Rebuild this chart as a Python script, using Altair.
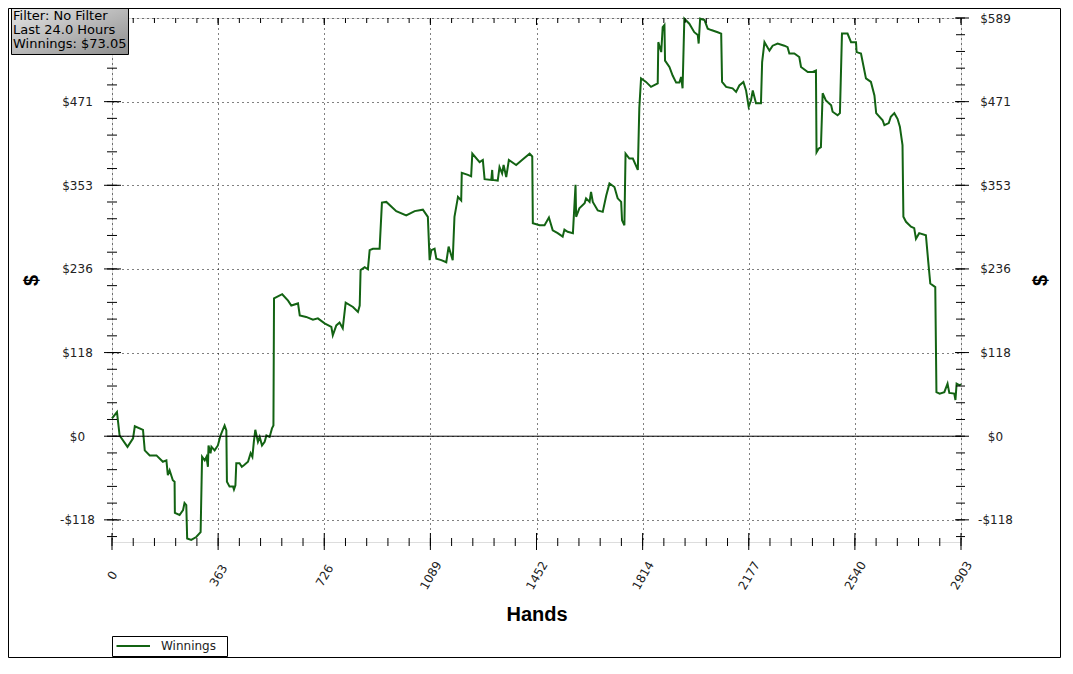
import altair as alt
import pandas as pd

# ---------------- data ----------------
hands = [0, 17, 26, 53, 72, 78, 106, 112, 129, 152, 174, 186, 191, 197, 208, 214, 215, 231, 243, 248,
         254, 257, 271, 288, 303, 308, 317, 323, 328, 330, 337, 340, 351, 362, 371, 376, 385, 391, 393, 402,
         414, 417, 422, 425, 436, 444, 451, 465, 474, 480, 485, 490, 499, 505, 513, 522, 528, 539, 547, 552,
         554, 582, 602, 613, 636, 642, 664, 687, 704, 727, 750, 755, 767, 778, 789, 799, 824, 841, 847, 850,
         864, 875, 881, 892, 915, 923, 938, 972, 1006, 1035, 1063, 1080, 1086, 1092, 1103, 1109, 1126, 1143, 1151, 1165,
         1171, 1177, 1183, 1194, 1196, 1217, 1228, 1232, 1257, 1268, 1274, 1297, 1300, 1302, 1319, 1325, 1334, 1339, 1348, 1357,
         1382, 1405, 1428, 1437, 1439, 1462, 1479, 1494, 1507, 1524, 1541, 1547, 1558, 1576, 1585, 1587, 1598, 1616, 1621, 1633,
         1638, 1644, 1661, 1678, 1690, 1701, 1718, 1729, 1741, 1744, 1752, 1756, 1769, 1781, 1798, 1803, 1809, 1826, 1843, 1866,
         1868, 1878, 1883, 1889, 1891, 1906, 1917, 1929, 1940, 1946, 1951, 1957, 1974, 1991, 2003, 2006, 2011, 2026, 2037, 2049,
         2071, 2083, 2086, 2100, 2122, 2134, 2145, 2159, 2168, 2177, 2185, 2191, 2202, 2219, 2223, 2231, 2248, 2259, 2276, 2299,
         2310, 2316, 2333, 2350, 2356, 2379, 2396, 2407, 2409, 2416, 2424, 2430, 2441, 2459, 2464, 2481, 2489, 2496, 2515, 2527,
         2544, 2546, 2561, 2578, 2595, 2607, 2613, 2635, 2641, 2656, 2663, 2675, 2686, 2694, 2703, 2706, 2715, 2732, 2743, 2749,
         2760, 2783, 2791, 2798, 2815, 2819, 2830, 2846, 2857, 2863, 2880, 2884, 2888, 2897, 2903]
winnings = [25, 34, 1, -15, -3, 14, 9, -20, -27, -27, -36, -34, -55, -48, -62, -64, -108, -111, -104, -94,
            -97, -144, -146, -142, -135, -29, -34, -29, -43, -13, -24, -15, -20, -13, 1, 6, 15, 8, -64, -71,
            -71, -75, -69, -38, -38, -43, -41, -36, -24, -29, -8, 9, -8, -1, -13, -8, 1, -1, 11, 15,
            194, 200, 191, 184, 187, 170, 168, 164, 166, 159, 154, 142, 156, 160, 152, 188, 182, 175, 184, 234,
            238, 235, 262, 264, 264, 329, 330, 317, 311, 317, 319, 309, 248, 262, 264, 250, 248, 245, 267, 248,
            309, 323, 337, 332, 371, 368, 366, 398, 386, 389, 362, 361, 375, 361, 360, 379, 370, 382, 365, 389,
            382, 390, 398, 394, 300, 297, 297, 308, 290, 286, 281, 291, 288, 286, 354, 309, 321, 328, 335, 330,
            344, 330, 318, 316, 339, 356, 351, 335, 330, 304, 297, 398, 391, 391, 375, 462, 504, 499, 492, 497,
            555, 541, 576, 579, 529, 520, 508, 498, 498, 506, 490, 588, 581, 569, 565, 553, 588, 586, 574, 572,
            569, 567, 499, 492, 490, 485, 494, 499, 487, 464, 473, 487, 469, 469, 527, 555, 543, 550, 553, 550,
            548, 539, 539, 534, 520, 513, 513, 515, 400, 405, 407, 483, 473, 466, 457, 452, 455, 567, 567, 555,
            555, 541, 539, 504, 499, 480, 455, 445, 438, 441, 450, 455, 447, 436, 410, 309, 302, 295, 293, 278,
            286, 283, 246, 215, 210, 62, 60, 62, 74, 61, 60, 51, 74, 72, 73.05]
series_name = "Winnings"

x_tick_values = [0, 362.875, 725.75, 1088.625, 1451.5, 1814.375, 2177.25, 2540.125, 2903]
x_tick_labels = ["0", "363", "726", "1089", "1452", "1814", "2177", "2540", "2903"]
y_tick_values = [-117.8, 0, 117.8, 235.6, 353.4, 471.2, 589]
y_tick_labels = ["-$118", "$0", "$118", "$236", "$353", "$471", "$589"]
# on the left the top label is hidden under the info box in the reference
y_left_labels = ["-$118", "$0", "$118", "$236", "$353", "$471", ""]
info_lines = ["Filter: No Filter", "Last 24.0 Hours", "Winnings: $73.05"]

x_domain = [0, 2903]
y_domain = [-149, 589]

# minor ticks: five divisions between major ticks
x_step = x_tick_values[1] / 5
y_step = y_tick_values[2] / 5
x_minor = [i * x_step for i in range(0, 41)]
y_minor = [k * y_step for k in range(-6, 26)]

# ---------------- styling ----------------
W, H = 849, 524
GREEN = "#136313"
LABEL_FONT = "DejaVu Sans"
TITLE_FONT = "Liberation Sans"


def label_expr(values, labels):
    parts = [f"abs(datum.value - ({v})) < 0.01 ? '{l}'" for v, l in zip(values, labels)]
    return " : ".join(parts) + " : ''"


x_scale = alt.Scale(domain=x_domain, nice=False, zero=False)
y_scale = alt.Scale(domain=y_domain, nice=False, zero=False)

common_axis = dict(
    labelFont=LABEL_FONT, labelFontSize=12, labelColor="#222222",
    labelFlush=False, labelOverlap=False, labelBound=False,
    ticks=False, tickSize=0, domain=False,
    titleFont=TITLE_FONT, titleFontSize=20, titleFontWeight="bold", titleColor="black",
    titleAlign="center", titleBaseline="middle",
    gridColor="black", gridDash=[1, 4], gridWidth=1, gridOpacity=1,
)

x_axis = alt.Axis(
    orient="bottom", values=x_tick_values, labelExpr=label_expr(x_tick_values, x_tick_labels),
    labelAngle=300, labelAlign="center", labelBaseline="middle", labelPadding=33,
    grid=True, title="Hands", titleX=W / 2, titleY=72, **common_axis)

y_axis_left = alt.Axis(
    orient="left", values=y_tick_values, labelExpr=label_expr(y_tick_values, y_left_labels),
    labelAlign="center", labelBaseline="middle", labelPadding=35,
    grid=True, title="$", titleAngle=270, titleX=-81, titleY=H / 2, **common_axis)

y_axis_right = alt.Axis(
    orient="right", values=y_tick_values, labelExpr=label_expr(y_tick_values, y_tick_labels),
    labelAlign="center", labelBaseline="middle", labelPadding=34,
    grid=False, title="$", titleAngle=270, titleX=79, titleY=H / 2, **common_axis)

df = pd.DataFrame({"hand": hands, "win": winnings, "series": series_name})
df["idx"] = range(len(df))

line = alt.Chart(df).mark_line(color=GREEN, strokeWidth=2).encode(
    x=alt.X("hand:Q", scale=x_scale, axis=x_axis),
    y=alt.Y("win:Q", scale=y_scale, axis=y_axis_left),
    order=alt.Order("idx:Q"),
)

zero = alt.Chart(pd.DataFrame({"v": [0]})).mark_rule(color="black", strokeWidth=1).encode(
    y=alt.Y("v:Q", scale=y_scale, axis=y_axis_right)
)

ymaj = pd.DataFrame({"v": y_tick_values})
ymin = pd.DataFrame({"v": y_minor})
xmaj = pd.DataFrame({"v": x_tick_values})
xmin = pd.DataFrame({"v": x_minor})


def hticks(data, a, b):
    return alt.Chart(data).mark_rule(color="black", strokeWidth=1).encode(
        y=alt.Y("v:Q", scale=y_scale, axis=None), x=alt.value(a), x2=alt.value(b))


def vticks(data, a, b):
    return alt.Chart(data).mark_rule(color="black", strokeWidth=1).encode(
        x=alt.X("v:Q", scale=x_scale, axis=None), y=alt.value(a), y2=alt.value(b))


ticks = [
    hticks(ymaj, -8, 9), hticks(ymin, -5, 5),
    hticks(ymaj, W - 6, W + 8), hticks(ymin, W - 5, W + 4),
    vticks(xmaj, H - 9, H + 8), vticks(xmin, H - 4, H + 4),
    vticks(xmaj, 0, 7), vticks(xmin, 0, 5),
]

one = pd.DataFrame({"k": [0]})

gradient = alt.LinearGradient(
    gradient="linear",
    stops=[alt.GradientStop(color="#e6e6e6", offset=0),
           alt.GradientStop(color="#8c8c8c", offset=1)],
    x1=0, y1=0, x2=1, y2=1,
)
info_box = alt.Chart(one).mark_rect(fill=gradient, stroke="black", strokeWidth=1).encode(
    x=alt.value(-100.5), x2=alt.value(16.5), y=alt.value(-9.5), y2=alt.value(36.5))

info_texts = [
    alt.Chart(one).mark_text(align="left", baseline="alphabetic", font=LABEL_FONT,
                             fontSize=13, color="black").encode(
        x=alt.value(-99), y=alt.value(2 + 14.2 * i), text=alt.value(t))
    for i, t in enumerate(info_lines)
]

legend_box = alt.Chart(one).mark_rect(fill="white", stroke="black", strokeWidth=1).encode(
    x=alt.value(0.5), x2=alt.value(115.5), y=alt.value(618.5), y2=alt.value(638.5))
legend_line = alt.Chart(one).mark_rule(color=GREEN, strokeWidth=2).encode(
    x=alt.value(4.5), x2=alt.value(38), y=alt.value(628))
legend_text = alt.Chart(one).mark_text(align="left", baseline="middle", font=LABEL_FONT,
                                       fontSize=12, color="#222222").encode(
    x=alt.value(49), y=alt.value(628), text=alt.value(series_name))

outer = alt.Chart(one).mark_rect(fill=None, stroke="black", strokeWidth=1).encode(
    x=alt.value(-103.5), x2=alt.value(W + 99.5), y=alt.value(-9.5), y2=alt.value(H + 115.5))

chart = alt.layer(
    line, zero, *ticks, info_box, *info_texts, legend_box, legend_line, legend_text, outer
).resolve_axis(y="independent", x="independent").resolve_scale(y="shared", x="shared").properties(
    width=W, height=H,
    autosize=alt.AutoSizeParams(type="none"),
    padding={"left": 104, "top": 10, "right": 100, "bottom": 116},
).configure_view(stroke="black", strokeWidth=1).configure(background="white")

chart.save("out.html", embed_options={"renderer": "svg", "actions": False})
